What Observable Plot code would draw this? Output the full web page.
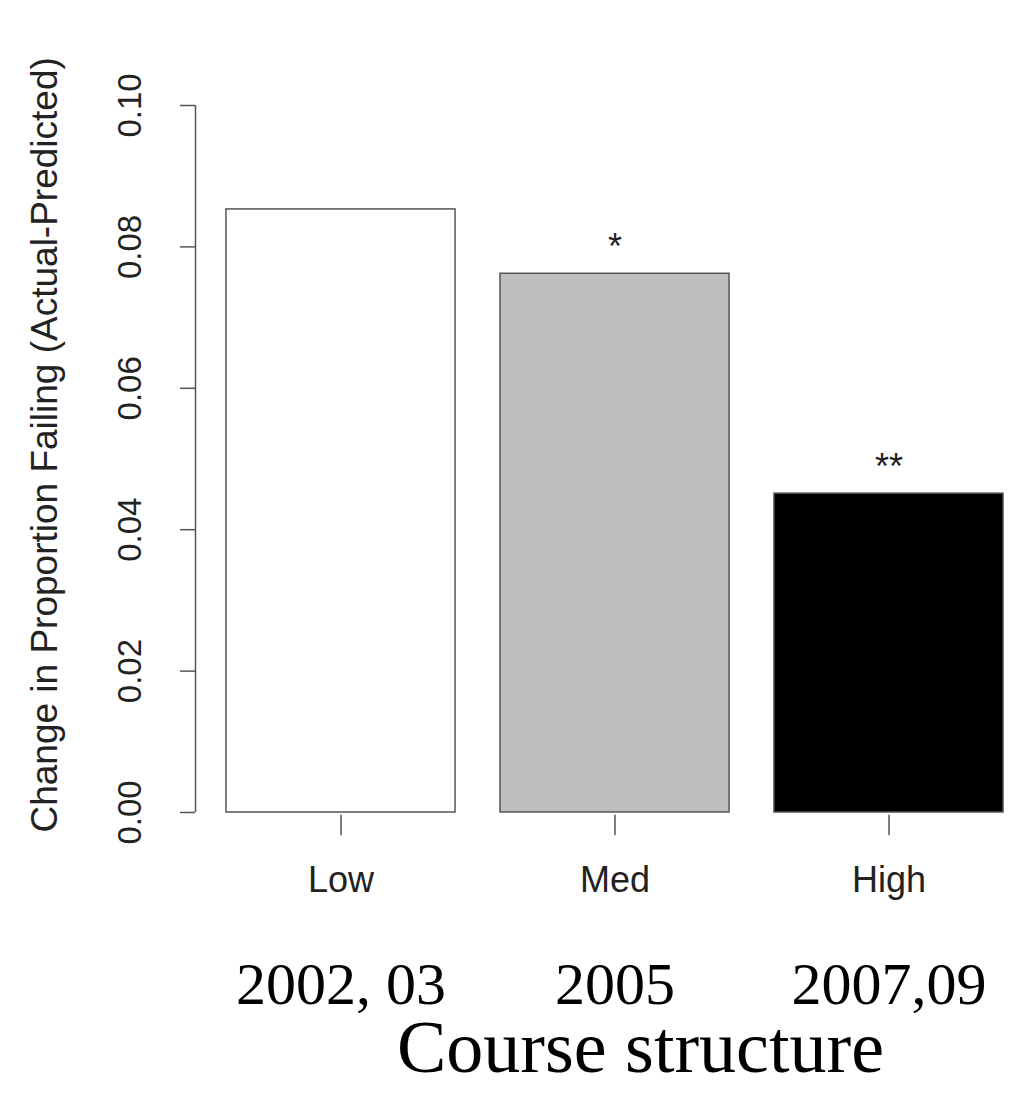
<!DOCTYPE html>
<html><head><meta charset="utf-8">
<script src="https://cdn.jsdelivr.net/npm/d3@7"></script>
<script src="https://cdn.jsdelivr.net/npm/@observablehq/plot@0.6"></script>
<style>body{margin:0;background:#fff}</style>
</head><body><div id="chart"></div>
<script>
var categories = ["Low", "Med", "High"];
var values = [0.0853, 0.0762, 0.0451];
var fills = ["#ffffff", "#bebebe", "#000000"];
var stars = ["", "*", "**"];
var years = ["2002, 03", "2005", "2007,09"];
var yTicks = [0, 0.02, 0.04, 0.06, 0.08, 0.1];

var data = categories.map((c, i) => ({cat: c, i: i, value: values[i], fill: fills[i], star: stars[i], year: years[i]}));
var axisX = -0.031;

var chart = Plot.plot({
  width: 1026, height: 1096,
  marginLeft: 203.5, marginRight: 0.5, marginTop: 105, marginBottom: 284,
  x: {domain: [0, 3], axis: null},
  y: {domain: [0, 0.1], axis: null},
  style: {fontFamily: "Liberation Sans, Arial, sans-serif", background: "#fff"},
  marks: [
    Plot.rectY(data, {x1: d => d.i + 0.082, x2: d => d.i + 0.918, y1: 0, y2: "value", fill: "fill", stroke: "#555", strokeWidth: 1.5}),
    Plot.text(data, {x: d => d.i + 0.5, y: "value", text: "star", dy: -26, fontSize: 36, fill: "#222"}),
    Plot.ruleX([axisX], {y1: 0, y2: 0.1, stroke: "#555", strokeWidth: 1.5}),
    Plot.ruleY(yTicks, {x1: axisX - 15 / 274, x2: axisX, stroke: "#555", strokeWidth: 1.5}),
    Plot.text(yTicks, {x: axisX, y: d => d, text: d => d3.format(".2f")(d), dx: -65, rotate: -90, fontSize: 33, fill: "#222"}),
    Plot.text(["Change in Proportion Failing (Actual-Predicted)"], {x: -0.578, y: 0.052, text: d => d, rotate: -90, fontSize: 37, fill: "#222"}),
    Plot.ruleX(data, {x: d => d.i + 0.5, y1: -0.0004, y2: -0.0033, stroke: "#555", strokeWidth: 1.5}),
    Plot.text(data, {x: d => d.i + 0.5, y: -0.0096, text: "cat", fontSize: 36, fill: "#222"}),
    Plot.text(data, {x: d => d.i + 0.5, y: -0.0243, text: "year", fontSize: 60, fill: "#000", fontFamily: "Liberation Serif, Times New Roman, serif"}),
    Plot.text(["Course structure"], {x: 1.593, y: -0.0334, text: d => d, fontSize: 74, fill: "#000", fontFamily: "Liberation Serif, Times New Roman, serif"})
  ]
});
chart.style.overflow = "visible";
document.getElementById("chart").append(chart);
</script>
</body></html>
